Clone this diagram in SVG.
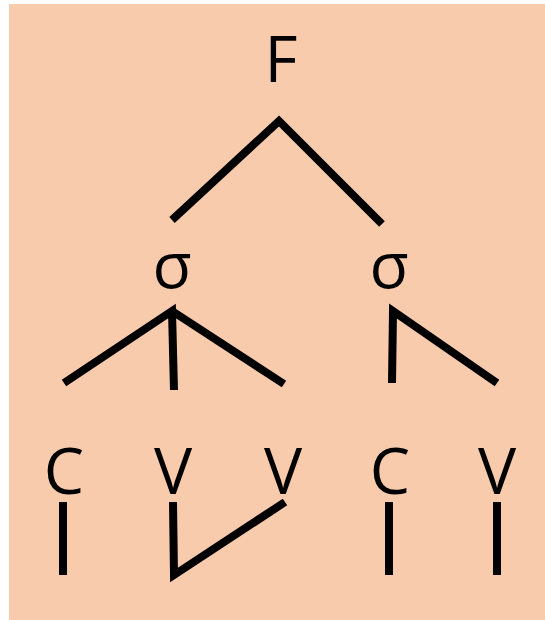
<svg xmlns="http://www.w3.org/2000/svg" width="545" height="620" viewBox="0 0 545 620">
<style>
.lbl{font-family:"Open Sans","Liberation Sans",sans-serif;font-size:64px;fill:#000;text-anchor:middle}
.edge{stroke:#000;stroke-width:8;fill:none;stroke-linecap:butt;stroke-linejoin:miter}
</style>
<rect x="9" y="4" width="536" height="616" fill="#F8CBAD"/>
<g id="connectors">
<polyline class="edge" points="172,220 279,121 382,224"/>
<polyline class="edge" points="64,383 172,311 174,390"/>
<line class="edge" x1="172" y1="311" x2="284" y2="384"/>
<polyline class="edge" points="392,383 393,311 497,383"/>
<line class="edge" x1="63" y1="502" x2="63" y2="575"/>
<polyline class="edge" points="173,502 174,575 285,502"/>
<line class="edge" x1="389" y1="502" x2="389" y2="575"/>
<line class="edge" x1="497" y1="502" x2="497" y2="575"/>
</g>
<g id="F"><text class="lbl" x="281" y="82">F</text></g>
<g id="sigma1"><text class="lbl" x="172" y="288">σ</text></g>
<g id="sigma2"><text class="lbl" x="389" y="288">σ</text></g>
<g id="C1"><text class="lbl" x="64" y="494">C</text></g>
<g id="V1"><text class="lbl" x="173" y="494">V</text></g>
<g id="V2"><text class="lbl" x="283" y="494">V</text></g>
<g id="C2"><text class="lbl" x="390" y="494">C</text></g>
<g id="V3"><text class="lbl" x="497" y="494">V</text></g>
</svg>
